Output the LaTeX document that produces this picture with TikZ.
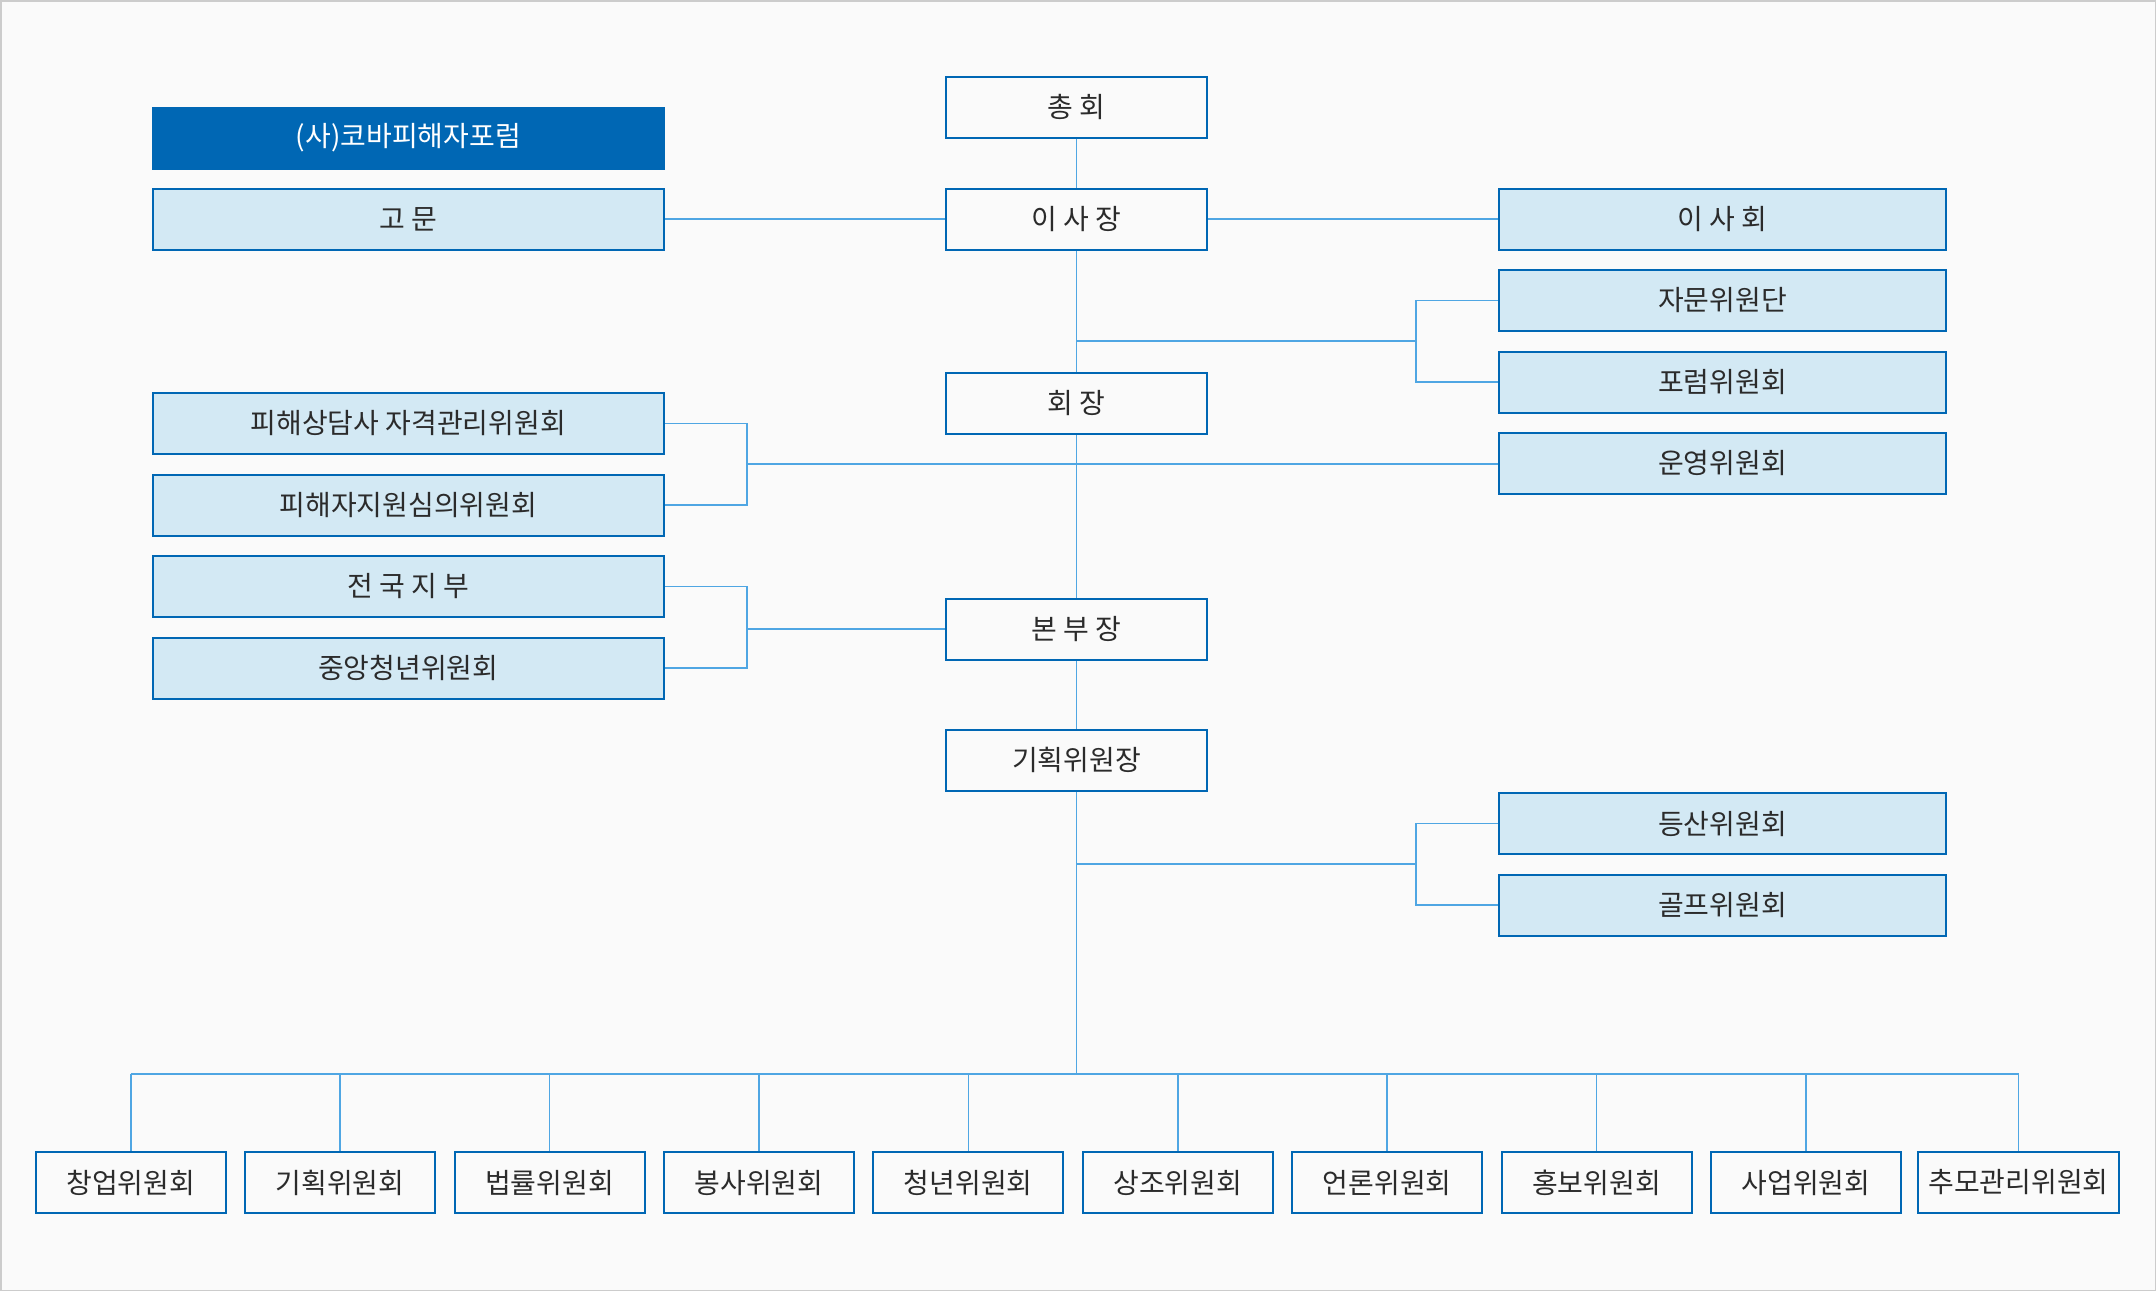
\documentclass[tikz,border=0pt]{standalone}
\usepackage{fontspec}
\setmainfont{Noto Sans CJK KR}
\usetikzlibrary{positioning}
\definecolor{kobaBlue}{HTML}{0067B4}
\definecolor{kobaFill}{HTML}{D3E9F4}
\definecolor{kobaLine}{HTML}{4FA6E3}
\definecolor{kobaText}{HTML}{2B2B2B}
\definecolor{kobaBg}{HTML}{FAFAFA}

\begin{document}
\begin{tikzpicture}[
  x=0.5pt, y=-0.5pt,
  node distance=9.25pt,
  box/.style={rectangle, draw=kobaBlue, line width=1pt, minimum height=30.5pt, inner sep=0pt, text=kobaText, font=\fontsize{14}{16}\selectfont},
  head/.style={box, fill=kobaBg, minimum width=130.5pt},
  left/.style={box, fill=kobaFill, minimum width=255.75pt},
  right/.style={box, fill=kobaFill, minimum width=223.5pt},
  unit/.style={box, fill=kobaBg, minimum width=95pt},
  title/.style={box, fill=kobaBlue, text=white, minimum width=255.75pt},
  link/.style={draw=kobaLine, line width=0.8pt}
]
\useasboundingbox (0,0) rectangle (2156,1291);
\draw[draw=gray!40, fill=kobaBg, line width=0.75pt] (0.75,0.75) rectangle (2155.25,1290.25);

\node[head] (chonghoe) at (1076.5,107) {총 회};
\node[head] (isajang) at (1076.5,219) {이 사 장};
\node[head] (hoejang) at (1076.5,403.5) {회 장};
\node[head] (bonbu) at (1076.5,629) {본 부 장};
\node[head] (gihoekjang) at (1076.5,760) {기획위원장};

\node[title] (koba) at (408.3,138) {(사)코바피해자포럼};
\node[left] (gomun) at (408.3,219) {고 문};
\node[left] (sangdam) at (408.3,423.5) {피해상담사 자격관리위원회};
\node[left, below=of sangdam] (simui) {피해자지원심의위원회};
\node[left, below=of simui] (jibu) {전 국 지 부};
\node[left, below=of jibu] (cheongnyeon) {중앙청년위원회};

\node[right] (isahoe) at (1722.5,219) {이 사 회};
\node[right, below=of isahoe] (jamun) {자문위원단};
\node[right, below=of jamun] (forum) {포럼위원회};
\node[right, below=of forum] (unyeong) {운영위원회};
\node[right] (deungsan) at (1722.5,823.5) {등산위원회};
\node[right, below=of deungsan] (golf) {골프위원회};

\foreach \t [count=\i] in {창업위원회,기획위원회,법률위원회,봉사위원회,청년위원회,상조위원회,언론위원회,홍보위원회,사업위원회}
  \node[unit] (c\i) at ({130.7+(\i-1)*209.4},1182.5) {\t};
\node[unit, minimum width=100.5pt] (c10) at (2018.5,1182.5) {추모관리위원회};

\coordinate (rb1) at (1416,341);
\coordinate (rb2) at (1416,864);
\coordinate (lb1) at (747,464);
\coordinate (lb2) at (747,629);
\coordinate (bus) at (1076.5,1074);

\draw[link] (chonghoe) -- (isajang);
\draw[link] (isajang) -- (hoejang);
\draw[link] (hoejang) -- (bonbu);
\draw[link] (bonbu) -- (gihoekjang);
\draw[link] (gihoekjang) -- (bus);
\draw[link] (gomun) -- (isajang);
\draw[link] (isajang) -- (isahoe);
\draw[link] (rb1 -| isajang.south) -- (rb1);
\draw[link] (jamun.west) -| (rb1) |- (forum.west);
\draw[link] (sangdam.east) -| (lb1) |- (simui.east);
\draw[link] (lb1) -- (lb1 -| unyeong.west);
\draw[link] (jibu.east) -| (lb2) |- (cheongnyeon.east);
\draw[link] (lb2) -- (bonbu.west);
\draw[link] (rb2 -| gihoekjang.south) -- (rb2);
\draw[link] (deungsan.west) -| (rb2) |- (golf.west);
\draw[link] (bus -| c1.north) -- (bus -| c10.north);
\foreach \i in {1,...,10}
  \draw[link] (bus -| c\i.north) -- (c\i.north);
\end{tikzpicture}
\end{document}
